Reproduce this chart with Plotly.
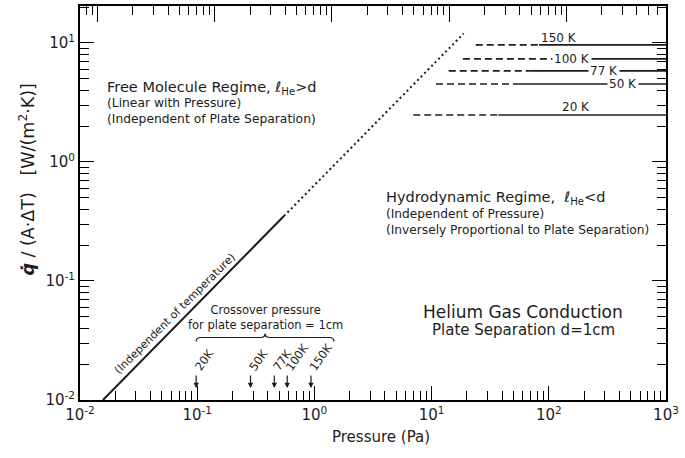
import numpy as np
import plotly.graph_objects as go

# ---------------- data ----------------
# Free-molecule regime (linear in pressure, independent of temperature)
free_P_solid = [0.0157, 0.55]
free_q_solid = [0.0100, 0.351]
free_P_dot = [0.55, 18.8]
free_q_dot = [0.351, 12.0]

# Hydrodynamic regime plateaus
hydro_labels = ["150 K", "100 K", "77 K", "50 K", "20 K"]
hydro_q = [9.62, 7.34, 5.82, 4.52, 2.48]
hydro_dash_start = [23.8, 18.5, 14.0, 10.9, 6.97]
hydro_solid_start = [82.6, 108.0, 68.0, 54.8, 37.2]
hydro_P_end = 1000.0
hydro_label_P = [122.0, 157.0, 298.0, 432.0, 172.0]
hydro_label_q = [11.1, 7.34, 5.82, 4.52, 2.90]
hydro_label_on_line = [False, True, True, True, False]

# Crossover pressures for d = 1 cm
cross_labels = ["20K", "50K", "77K", "100K", "150K"]
cross_P = [0.098, 0.285, 0.455, 0.586, 0.935]

x_tick_vals = [1e-2, 1e-1, 1e0, 1e1, 1e2, 1e3]
x_tick_text = ["10<sup>-2</sup>", "10<sup>-1</sup>", "10<sup>0</sup>",
               "10<sup>1</sup>", "10<sup>2</sup>", "10<sup>3</sup>"]
y_tick_vals = [1e-2, 1e-1, 1e0, 1e1]
y_tick_text = ["10<sup>-2</sup>", "10<sup>-1</sup>", "10<sup>0</sup>", "10<sup>1</sup>"]

FONT = "DejaVu Sans, Liberation Sans, Arial, sans-serif"
INK = "#1c1c1c"

def minor_vals(lo, hi):
    out = []
    for e in range(lo, hi + 1):
        for m in range(2, 10):
            out.append(m * 10.0 ** e)
    return out

fig = go.Figure()

fig.add_trace(go.Scatter(x=free_P_solid, y=free_q_solid, mode="lines",
                         line=dict(color=INK, width=2), showlegend=False))
fig.add_trace(go.Scatter(x=free_P_dot, y=free_q_dot, mode="lines",
                         line=dict(color=INK, width=2, dash="2px,3px"), showlegend=False))

for q, p0, p1 in zip(hydro_q, hydro_dash_start, hydro_solid_start):
    fig.add_trace(go.Scatter(x=[p0, p1], y=[q, q], mode="lines",
                             line=dict(color=INK, width=1.6, dash="7px,4px"), showlegend=False))
    fig.add_trace(go.Scatter(x=[p1, hydro_P_end], y=[q, q], mode="lines",
                             line=dict(color=INK, width=1.6), showlegend=False))

# helper traces so the mirrored axes get drawn
fig.add_trace(go.Scatter(x=[], y=[], xaxis="x2", yaxis="y", showlegend=False))
fig.add_trace(go.Scatter(x=[], y=[], xaxis="x", yaxis="y2", showlegend=False))

ann = []
# line labels
for lab, lp, lq, on in zip(hydro_labels, hydro_label_P, hydro_label_q, hydro_label_on_line):
    ann.append(dict(x=np.log10(lp), y=np.log10(lq), xref="x", yref="y", text=lab,
                    showarrow=False, font=dict(family=FONT, size=12, color=INK),
                    bgcolor="white" if on else None, borderpad=1,
                    xanchor="center", yanchor="middle"))

# crossover arrows + rotated labels
for lab, p in zip(cross_labels, cross_P):
    ann.append(dict(x=np.log10(p), y=np.log10(0.0126), xref="x", yref="y", text="",
                    showarrow=True, arrowhead=2, arrowsize=0.9, arrowwidth=1.2,
                    arrowcolor=INK, ax=0, ay=-14))
    ann.append(dict(x=np.log10(p) - 0.06, y=-1.80, xref="x", yref="y", text=lab,
                    showarrow=False, textangle=-55,
                    font=dict(family=FONT, size=11.5, color=INK),
                    xanchor="left", yanchor="bottom"))

ann += [
    dict(x=np.log10(0.38), y=-1.31, xref="x", yref="y",
         text="Crossover pressure<br>for plate separation = 1cm",
         showarrow=False, font=dict(family=FONT, size=11.5, color=INK),
         xanchor="center", yanchor="middle"),
    dict(x=-1.79, y=0.625, xref="x", yref="y",
         text="Free Molecule Regime, <i>ℓ</i><sub>He</sub>&gt;d",
         showarrow=False, font=dict(family=FONT, size=14.5, color=INK),
         xanchor="left", yanchor="middle"),
    dict(x=-1.79, y=0.425, xref="x", yref="y",
         text="(Linear with Pressure)<br>(Independent of Plate Separation)",
         showarrow=False, font=dict(family=FONT, size=12.3, color=INK),
         xanchor="left", yanchor="middle", align="left"),
    dict(x=0.597, y=-0.30, xref="x", yref="y",
         text="Hydrodynamic Regime,  <i>ℓ</i><sub>He</sub>&lt;d",
         showarrow=False, font=dict(family=FONT, size=14.5, color=INK),
         xanchor="left", yanchor="middle"),
    dict(x=0.597, y=-0.505, xref="x", yref="y",
         text="(Independent of Pressure)<br>(Inversely Proportional to Plate Separation)",
         showarrow=False, font=dict(family=FONT, size=12.2, color=INK),
         xanchor="left", yanchor="middle", align="left"),
    dict(x=1.782, y=-1.26, xref="x", yref="y", text="Helium Gas Conduction",
         showarrow=False, font=dict(family=FONT, size=17, color=INK),
         xanchor="center", yanchor="middle"),
    dict(x=1.782, y=-1.41, xref="x", yref="y", text="Plate Separation d=1cm",
         showarrow=False, font=dict(family=FONT, size=15, color=INK),
         xanchor="center", yanchor="middle"),
    dict(x=-1.19, y=-1.27, xref="x", yref="y", text="(Independent of temperature)",
         showarrow=False, textangle=-45, font=dict(family=FONT, size=11, color=INK),
         xanchor="center", yanchor="middle"),
    dict(x=-0.09, y=0.56, xref="paper", yref="paper",
         text="<b><i>q̇</i></b> / (A·ΔT)   [W/(m<sup>2</sup>·K)]",
         showarrow=False, textangle=-90, font=dict(family=FONT, size=17.5, color=INK),
         xanchor="center", yanchor="middle"),
    dict(x=0.513, y=-0.094, xref="paper", yref="paper", text="Pressure (Pa)",
         showarrow=False, font=dict(family=FONT, size=15, color=INK),
         xanchor="center", yanchor="middle"),
]

# brace under crossover text (paper coordinates from log data)
def px(p):
    return (np.log10(p) + 2) / 5.0

def py(q):
    return (np.log10(q) + 2) / (1.31 + 2)

bl, bc, br = px(0.098), px(0.38), px(1.47)
y_mid, y_end, y_tip = py(0.0335), py(0.0310), py(0.0362)
dx = 0.008
brace = (f"M {bl},{y_end} Q {bl},{y_mid} {bl+dx},{y_mid} L {bc-dx},{y_mid} "
         f"Q {bc},{y_mid} {bc},{y_tip} Q {bc},{y_mid} {bc+dx},{y_mid} "
         f"L {br-dx},{y_mid} Q {br},{y_mid} {br},{y_end}")

axis_common = dict(showgrid=False, zeroline=False, showline=True, linecolor="black",
                   linewidth=2, ticks="inside", tickcolor="black", tickwidth=1.3)

fig.update_layout(
    width=685, height=458,
    margin=dict(l=80, r=14, t=6, b=58),
    paper_bgcolor="white", plot_bgcolor="white",
    showlegend=False,
    annotations=ann,
    shapes=[dict(type="path", path=brace, xref="paper", yref="paper",
                 line=dict(color=INK, width=1.2))],
    xaxis=dict(type="log", range=[-2, 3], tickvals=x_tick_vals, ticktext=x_tick_text,
               ticklen=14, tickfont=dict(family=FONT, size=15, color=INK),
               minor=dict(ticks="inside", ticklen=9, tickwidth=1.3, tickcolor="black",
                          tickvals=minor_vals(-2, 2), showgrid=False),
               **axis_common),
    yaxis=dict(type="log", range=[-2, 1.31], tickvals=y_tick_vals, ticktext=y_tick_text,
               ticklen=14, tickfont=dict(family=FONT, size=15, color=INK),
               minor=dict(ticks="inside", ticklen=9, tickwidth=1.3, tickcolor="black",
                          tickvals=minor_vals(-2, 1), showgrid=False),
               **axis_common),
    xaxis2=dict(type="log", range=[-4.15, 0.85], overlaying="x", side="top", anchor="y",
                tickvals=[1e-4, 1e-3, 1e-2, 1e-1, 1e0], showticklabels=False, ticklen=16,
                minor=dict(ticks="inside", ticklen=9, tickwidth=1.3, tickcolor="black",
                           tickvals=minor_vals(-5, 0), showgrid=False),
                **axis_common),
    yaxis2=dict(type="log", range=[-2, 1.31], overlaying="y", side="right", anchor="x",
                tickvals=y_tick_vals, showticklabels=False, ticklen=14,
                minor=dict(ticks="inside", ticklen=9, tickwidth=1.3, tickcolor="black",
                           tickvals=minor_vals(-2, 1), showgrid=False),
                **axis_common),
)

fig.write_html("out.html")
